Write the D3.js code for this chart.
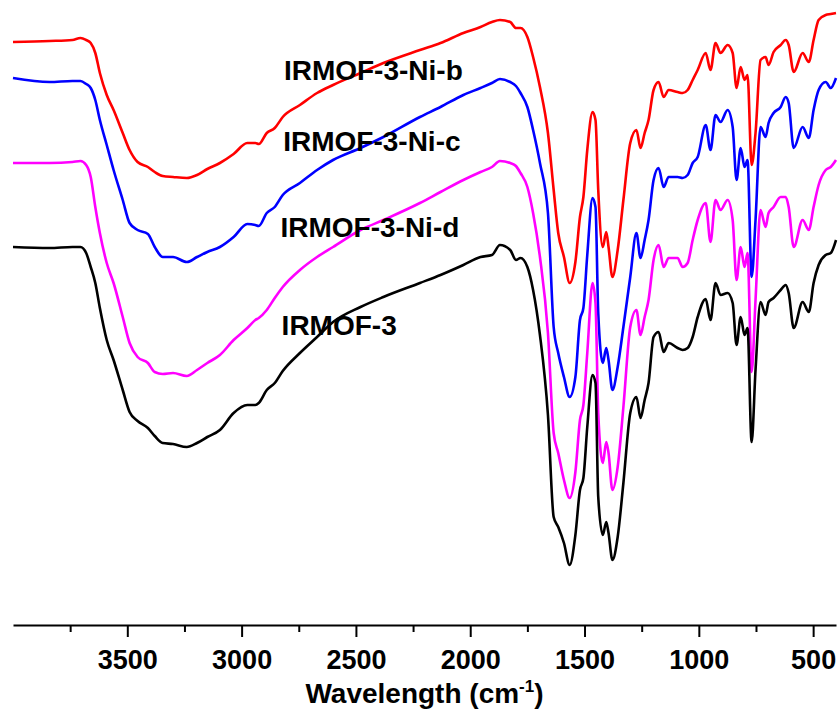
<!DOCTYPE html>
<html>
<head>
<meta charset="utf-8">
<script src="https://cdn.jsdelivr.net/npm/d3@7"></script>
<style>
  body { margin: 0; background: #fff; }
  svg { display: block; font-family: "Liberation Sans", Arial, Helvetica, sans-serif; font-weight: bold; }
</style>
</head>
<body>
<div id="chart"></div>
<script>
// wavenumbers (cm-1), shared by all spectra
const wavenumbers = [4000, 3840, 3740, 3705, 3680, 3660, 3640, 3620, 3590, 3560,
  3520, 3490, 3455, 3410, 3380, 3345, 3300, 3240, 3195, 3150,
  3095, 3035, 2975, 2940, 2925, 2890, 2855, 2820, 2745, 2670,
  2600, 2480, 2380, 2220, 2130, 2030, 1955, 1905, 1870, 1825,
  1800, 1780, 1750, 1725, 1695, 1660, 1635, 1615, 1590, 1565,
  1540, 1520, 1505, 1488, 1465, 1452, 1440, 1420, 1405, 1395,
  1378, 1355, 1330, 1300, 1273, 1255, 1237, 1220, 1198, 1176,
  1154, 1132, 1093, 1071, 1049, 1027, 1005, 970, 949, 927,
  905, 874, 852, 835, 817, 800, 787, 769, 752, 730,
  708, 695, 673, 642, 620, 607, 585, 546, 519, 498,
  476, 445, 423, 400];

// transmittance (a.u., curves offset as in the figure)
const niB = [116.6, 116.8, 117.0, 117.4, 117.0, 116.4, 114.4, 110.4, 106.0, 103.0,
  98.4, 95.0, 92.6, 91.6, 90.6, 89.8, 89.6, 89.4, 90.0, 91.2,
  92.4, 94.2, 96.4, 96.4, 96.2, 98.4, 99.4, 101.6, 104.0, 106.4,
  108.0, 110.4, 112.4, 115.0, 116.4, 118.4, 119.6, 120.6, 121.0, 120.6,
  119.4, 119.4, 117.6, 113.6, 107.6, 98.4, 87.0, 78.4, 73.6, 68.4,
  72.6, 81.6, 85.6, 95.0, 102.6, 101.0, 87.0, 75.6, 78.6, 75.6,
  69.6, 75.0, 85.0, 96.4, 99.0, 95.4, 98.4, 101.0, 107.0, 108.6,
  105.6, 107.0, 106.6, 106.4, 107.0, 109.0, 111.0, 114.4, 111.0, 116.4,
  114.4, 116.0, 114.4, 107.4, 111.6, 109.0, 110.0, 92.0, 98.4, 113.0,
  113.6, 112.0, 114.6, 116.0, 117.0, 116.0, 110.6, 114.4, 112.6, 117.0,
  121.0, 122.0, 122.2, 122.4];

const niC = [109.4, 108.6, 108.8, 108.8, 108.2, 107.4, 105.0, 101.0, 96.0, 91.0,
  85.0, 80.4, 79.0, 78.2, 75.6, 73.6, 73.6, 72.6, 73.6, 74.6,
  75.6, 77.6, 80.2, 80.0, 79.8, 82.4, 83.6, 86.0, 88.4, 91.0,
  93.0, 95.4, 97.6, 101.6, 103.6, 106.0, 107.4, 108.4, 109.2, 108.6,
  107.8, 106.4, 103.6, 99.0, 92.4, 82.4, 59.6, 54.4, 49.6, 45.6,
  49.6, 61.0, 63.4, 74.0, 85.4, 83.6, 62.4, 52.4, 55.4, 53.0,
  47.0, 51.6, 59.6, 69.6, 78.4, 73.4, 77.0, 81.0, 89.0, 91.4,
  87.6, 89.6, 89.6, 89.4, 90.0, 92.4, 93.6, 100.0, 95.0, 102.0,
  100.6, 103.0, 99.6, 89.0, 95.4, 91.6, 93.0, 69.6, 81.0, 99.6,
  97.6, 100.4, 102.4, 103.6, 105.6, 104.4, 95.4, 99.6, 97.4, 103.0,
  107.0, 108.6, 107.4, 109.4];

const niD = [92.4, 92.4, 92.6, 92.8, 92.0, 89.6, 83.6, 78.4, 72.4, 68.4,
  61.6, 56.4, 53.6, 52.4, 50.6, 50.2, 50.4, 49.8, 51.0, 52.4,
  54.0, 57.0, 59.4, 61.0, 61.4, 63.0, 65.4, 67.6, 71.0, 73.6,
  75.6, 79.0, 81.0, 84.4, 86.6, 89.0, 90.6, 91.6, 92.8, 92.4,
  91.8, 90.4, 87.6, 82.4, 73.6, 58.4, 38.4, 34.4, 29.0, 25.4,
  30.6, 41.0, 44.0, 54.4, 68.4, 64.4, 42.4, 32.4, 36.6, 34.4,
  27.0, 31.6, 43.6, 59.6, 63.0, 58.0, 61.6, 65.0, 73.0, 76.0,
  71.6, 73.4, 73.4, 71.6, 72.4, 77.0, 81.0, 84.4, 76.6, 85.0,
  83.0, 85.0, 81.0, 69.0, 75.6, 71.6, 74.4, 50.6, 65.0, 83.0,
  79.6, 82.4, 83.6, 85.6, 85.6, 83.6, 75.6, 81.0, 79.0, 83.6,
  88.0, 91.0, 91.6, 93.0];

const irmof3 = [75.6, 75.4, 75.6, 75.6, 74.4, 71.6, 68.4, 63.4, 57.0, 53.0,
  47.0, 42.6, 40.8, 39.4, 37.8, 36.4, 36.2, 35.6, 36.4, 37.6,
  39.0, 42.4, 44.0, 44.0, 44.4, 47.0, 48.4, 50.8, 54.4, 57.6,
  60.6, 63.6, 65.6, 68.4, 70.0, 72.0, 73.6, 74.0, 76.0, 75.0,
  73.0, 73.4, 71.6, 67.0, 58.0, 42.0, 21.6, 19.6, 16.4, 12.0,
  18.0, 27.0, 29.4, 39.6, 50.0, 48.4, 25.6, 18.0, 20.6, 18.4,
  13.0, 17.6, 28.4, 42.4, 45.6, 41.4, 45.0, 48.4, 57.6, 58.6,
  54.6, 56.4, 55.4, 55.0, 55.4, 57.6, 61.6, 65.2, 61.0, 68.4,
  66.0, 66.4, 64.4, 56.0, 61.6, 58.0, 59.4, 36.6, 51.0, 64.6,
  62.0, 64.6, 65.4, 67.0, 68.0, 66.4, 59.4, 64.6, 62.6, 68.4,
  72.0, 74.0, 74.4, 77.0];

const seriesNames = ["IRMOF-3-Ni-b", "IRMOF-3-Ni-c", "IRMOF-3-Ni-d", "IRMOF-3"];
const seriesValues = [niB, niC, niD, irmof3];
const seriesColors = ["#ff0000", "#0000ff", "#ff00ff", "#000000"];

const majorTicks = [3500, 3000, 2500, 2000, 1500, 1000, 500];
const minorTicks = [3750, 3250, 2750, 2250, 1750, 1250, 750];

const width = 839, height = 709;
const margin = {top: 0, right: 3, bottom: 84, left: 13};

const svg = d3.select("#chart")
  .append("svg")
  .attr("width", width)
  .attr("height", height);

const x = d3.scaleLinear()
  .domain([4000, 400])
  .range([margin.left, width - margin.right]);

const y = d3.scaleLinear()
  .domain([0, 125])
  .range([height - margin.bottom, height - margin.bottom - 625]);

const line = d3.line()
  .x(d => x(d[0]))
  .y(d => y(d[1]))
  .curve(d3.curveMonotoneX);

seriesValues.forEach((vals, i) => {
  svg.append("path")
    .datum(wavenumbers.map((w, j) => [w, vals[j]]))
    .attr("fill", "none")
    .attr("stroke", seriesColors[i])
    .attr("stroke-width", 2.6)
    .attr("stroke-linejoin", "round")
    .attr("d", line);
});

// curve labels
const labelPos = [[2815, 109], [2818, 94.8], [2830, 77.6], [2825, 58]];
seriesNames.forEach((name, i) => {
  svg.append("text")
    .attr("x", x(labelPos[i][0]))
    .attr("y", y(labelPos[i][1]))
    .attr("font-size", 28)
    .attr("fill", "#000")
    .text(name);
});

// x axis
const axisY = height - margin.bottom;

const minorAxis = svg.append("g")
  .attr("transform", "translate(0," + axisY + ")")
  .call(d3.axisBottom(x).tickValues(minorTicks).tickSize(7).tickFormat(""));
minorAxis.select(".domain").remove();
minorAxis.selectAll("line").attr("stroke-width", 2);

const xAxis = svg.append("g")
  .attr("transform", "translate(0," + axisY + ")")
  .call(d3.axisBottom(x).tickValues(majorTicks).tickSize(12).tickSizeOuter(0).tickPadding(13).tickFormat(d3.format("d")));
xAxis.select(".domain").attr("stroke-width", 2.2);
xAxis.selectAll(".tick line").attr("stroke-width", 2);
xAxis.selectAll("text")
  .attr("font-size", 27)
  .attr("font-weight", "bold")
  .attr("font-family", "'Liberation Sans', Arial, sans-serif")
  .attr("fill", "#000");

const title = svg.append("text")
  .attr("x", (x.range()[0] + x.range()[1]) / 2)
  .attr("y", 703)
  .attr("text-anchor", "middle")
  .attr("font-size", 28)
  .text("Wavelength (cm");
title.append("tspan")
  .attr("font-size", 17)
  .attr("dy", -11)
  .text("-1");
title.append("tspan")
  .attr("dy", 11)
  .text(")");
</script>
</body>
</html>
